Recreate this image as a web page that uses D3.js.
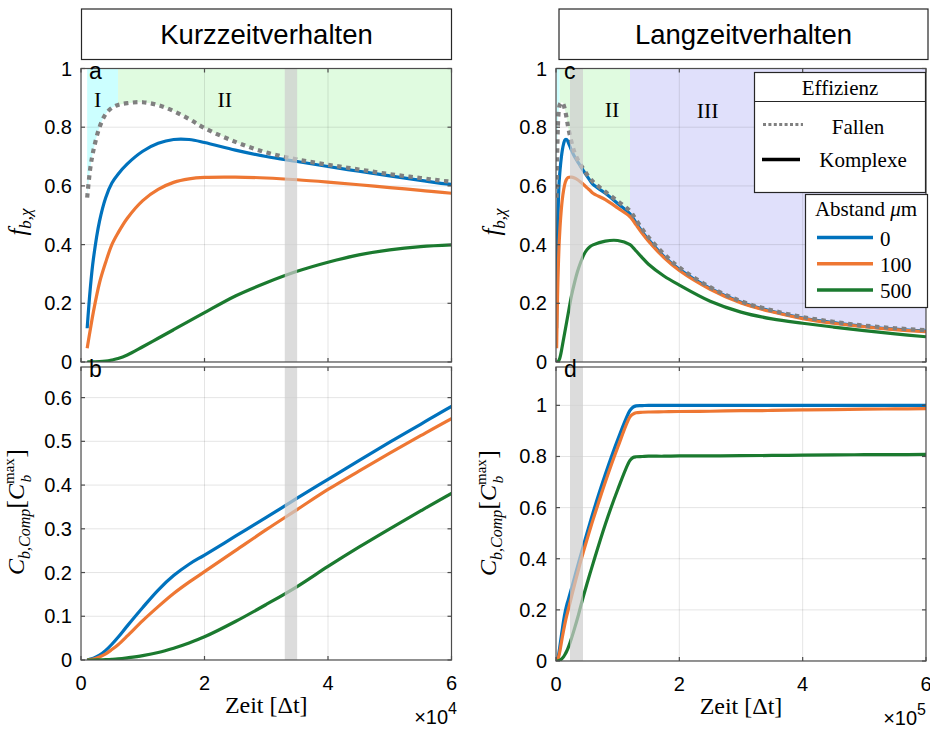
<!DOCTYPE html>
<html>
<head>
<meta charset="utf-8">
<script src="https://cdn.jsdelivr.net/npm/d3@7"></script>
<style>
  html, body { margin: 0; padding: 0; background: #fff; }
  svg { display: block; }
  text { fill: #000; }
</style>
</head>
<body>
<svg id="chart" width="930" height="729"></svg>
<script>
// ---- Simulation output -------------------------------------------------
// time points [Δt]
const zeit = [1000, 1500, 2000, 3000, 4000, 5000, 6000, 7500, 10000, 12500, 15000, 17500,
  20000, 25000, 30000, 35000, 40000, 45000, 50000, 55000, 60000, 80000, 100000, 120000,
  125000, 130000, 140000, 150000, 175000, 200000, 250000, 300000, 350000, 400000,
  450000, 500000, 550000, 600000];

// efficiency of the traps (dotted)
const effFallen = [0.56, 0.66, 0.72, 0.80, 0.845, 0.866, 0.876, 0.882, 0.885, 0.875, 0.855, 0.828,
  0.797, 0.750, 0.714, 0.690, 0.672, 0.656, 0.640, 0.627, 0.614, 0.580, 0.548, 0.515,
  0.500, 0.484, 0.452, 0.425, 0.368, 0.322, 0.255, 0.207, 0.176, 0.153,
  0.137, 0.124, 0.115, 0.108];

// efficiency of the complexes, per distance
const eff0 = [0.115, 0.25, 0.35, 0.48, 0.56, 0.61, 0.64, 0.675, 0.718, 0.745, 0.758, 0.758,
  0.748, 0.722, 0.70, 0.683, 0.666, 0.65, 0.634, 0.619, 0.605, 0.575, 0.54, 0.505,
  0.49, 0.474, 0.443, 0.417, 0.36, 0.316, 0.251, 0.204, 0.173, 0.15,
  0.134, 0.121, 0.112, 0.105];
const eff100 = [0.047, 0.11, 0.17, 0.27, 0.34, 0.40, 0.44, 0.49, 0.55, 0.588, 0.612, 0.624,
  0.629, 0.63, 0.627, 0.621, 0.613, 0.604, 0.594, 0.585, 0.575, 0.553, 0.525, 0.495,
  0.482, 0.467, 0.438, 0.412, 0.356, 0.312, 0.248, 0.201, 0.171, 0.148,
  0.132, 0.12, 0.11, 0.103];
const eff500 = [0.0, 0.0002, 0.0005, 0.001, 0.003, 0.007, 0.012, 0.024, 0.052, 0.081, 0.11, 0.139,
  0.168, 0.225, 0.27, 0.309, 0.34, 0.365, 0.382, 0.393, 0.399, 0.412, 0.414, 0.40,
  0.39, 0.378, 0.355, 0.333, 0.293, 0.262, 0.207, 0.17, 0.147, 0.132,
  0.119, 0.107, 0.096, 0.086];

// bound complexes C_b,Comp normalised to C_b^max, per distance
const komp0 = [0, 0.002, 0.004, 0.011, 0.022, 0.036, 0.052, 0.078, 0.12, 0.16, 0.193, 0.219,
  0.24, 0.283, 0.326, 0.37, 0.413, 0.456, 0.498, 0.539, 0.58, 0.73, 0.865, 0.98,
  0.993, 0.998, 0.999, 1.0, 1.0, 1.0, 1.0, 1.0, 1.0, 1.0,
  1.0, 1.0, 1.0, 1.0];
const komp100 = [0, 0.001, 0.002, 0.007, 0.014, 0.024, 0.035, 0.055, 0.09, 0.122, 0.152, 0.178,
  0.202, 0.25, 0.298, 0.344, 0.39, 0.432, 0.473, 0.513, 0.552, 0.70, 0.835, 0.955,
  0.966, 0.971, 0.973, 0.974, 0.975, 0.976, 0.977, 0.979, 0.98, 0.982,
  0.983, 0.985, 0.986, 0.987];
const komp500 = [0, 0, 0, 0.0003, 0.0008, 0.0015, 0.0025, 0.005, 0.01, 0.017, 0.027, 0.039,
  0.053, 0.088, 0.127, 0.168, 0.214, 0.258, 0.30, 0.341, 0.381, 0.535, 0.67, 0.785,
  0.796, 0.799, 0.80, 0.801, 0.801, 0.802, 0.802, 0.803, 0.804, 0.805,
  0.806, 0.807, 0.807, 0.808];

const abstand = ["0", "100", "500"];
const effSerien = [eff0, eff100, eff500];
const kompSerien = [komp0, komp100, komp500];

// phases of the process [Δt]
const phasenKurz = [{name: "I", von: 0, bis: 6000}, {name: "II", von: 6000, bis: 60000}];
const phasenLang = [{name: "I", von: 0, bis: 6000}, {name: "II", von: 6000, bis: 120000},
                    {name: "III", von: 120000, bis: 600000}];
// highlighted time window [Δt]
const fensterKurz = [33000, 35000];
const fensterLang = [22700, 43800];

// axis ticks
const tickEff = [0, 0.2, 0.4, 0.6, 0.8, 1];
const tickKompKurz = [0, 0.1, 0.2, 0.3, 0.4, 0.5, 0.6];
const tickKompLang = [0, 0.2, 0.4, 0.6, 0.8, 1];
const tickZeitKurz = [0, 20000, 40000, 60000];
const tickZeitLang = [0, 200000, 400000, 600000];

// ---- Styles --------------------------------------------------------------
const farben = ["#0072BD", "#EE7733", "#1B7A2F"];
const phasenFarbe = {I: "#ccffff", II: "#e0fbe0", III: "#e0e0fb"};
const sans = "'Liberation Sans', Arial, Helvetica, sans-serif";
const serif = "'Liberation Serif', 'Times New Roman', serif";
const achsFarbe = "#4d4d4d";
const kurve = d3.curveCatmullRom.alpha(0.5);

const svg = d3.select("#chart");
let clipId = 0;

function panel(cfg) {
  const x = d3.scaleLinear().domain([0, cfg.xmax]).range([cfg.left, cfg.right]);
  const y = d3.scaleLinear().domain([0, cfg.ymax]).range([cfg.bottom, cfg.top]);
  const g = svg.append("g");

  const cid = "clip" + (clipId++);
  svg.append("clipPath").attr("id", cid).append("rect")
    .attr("x", cfg.left).attr("y", cfg.top)
    .attr("width", cfg.right - cfg.left).attr("height", cfg.bottom - cfg.top);

  const pts = zeit.map((t, i) => i);
  const inner = g.append("g").attr("clip-path", `url(#${cid})`);

  // phase shading above the trap efficiency curve
  if (cfg.phasen) {
    cfg.phasen.forEach(p => {
      const pid = "clip" + (clipId++);
      svg.append("clipPath").attr("id", pid).append("rect")
        .attr("x", x(p.von)).attr("y", cfg.top)
        .attr("width", x(Math.min(p.bis, cfg.xmax)) - x(p.von)).attr("height", cfg.bottom - cfg.top);
      const area = d3.area()
        .x(i => x(zeit[i])).y0(y(1)).y1(i => y(effFallen[i]))
        .curve(kurve);
      inner.append("g").attr("clip-path", `url(#${pid})`)
        .append("path").attr("d", area(pts)).attr("fill", phasenFarbe[p.name]);
    });
  }

  // grid
  cfg.xticks.forEach(t => {
    inner.append("line").attr("x1", x(t)).attr("x2", x(t))
      .attr("y1", cfg.top).attr("y2", cfg.bottom)
      .attr("stroke", "#262626").attr("stroke-opacity", 0.12).attr("stroke-width", 1);
  });
  cfg.yticks.forEach(v => {
    inner.append("line").attr("x1", cfg.left).attr("x2", cfg.right)
      .attr("y1", y(v)).attr("y2", y(v))
      .attr("stroke", "#262626").attr("stroke-opacity", 0.12).attr("stroke-width", 1);
  });

  // curves
  const line = arr => d3.line().x(i => x(zeit[i])).y(i => y(arr[i]))
    .curve(kurve)(pts.filter(i => zeit[i] <= cfg.xmax * 1.4));
  cfg.serien.forEach((s, k) => {
    inner.append("path").attr("d", line(s)).attr("fill", "none")
      .attr("stroke", farben[k]).attr("stroke-width", 3.2).attr("stroke-linejoin", "round");
  });
  if (cfg.fallen) {
    inner.append("path").attr("d", line(effFallen)).attr("fill", "none")
      .attr("stroke", "#808080").attr("stroke-width", 4.2)
      .attr("stroke-dasharray", "4.5 4.5");
  }

  // highlighted window
  inner.append("rect")
    .attr("x", x(cfg.fenster[0])).attr("width", x(cfg.fenster[1]) - x(cfg.fenster[0]))
    .attr("y", cfg.top).attr("height", cfg.bottom - cfg.top)
    .attr("fill", "#cdcdcd").attr("fill-opacity", 0.7);

  // box & ticks
  g.append("rect").attr("x", cfg.left).attr("y", cfg.top)
    .attr("width", cfg.right - cfg.left).attr("height", cfg.bottom - cfg.top)
    .attr("fill", "none").attr("stroke", achsFarbe).attr("stroke-width", 1.2);
  const tl = 4;
  cfg.xticks.forEach(t => {
    g.append("line").attr("x1", x(t)).attr("x2", x(t)).attr("y1", cfg.bottom).attr("y2", cfg.bottom - tl)
      .attr("stroke", achsFarbe).attr("stroke-width", 1.2);
    g.append("line").attr("x1", x(t)).attr("x2", x(t)).attr("y1", cfg.top).attr("y2", cfg.top + tl)
      .attr("stroke", achsFarbe).attr("stroke-width", 1.2);
  });
  cfg.yticks.forEach(v => {
    g.append("line").attr("x1", cfg.left).attr("x2", cfg.left + tl).attr("y1", y(v)).attr("y2", y(v))
      .attr("stroke", achsFarbe).attr("stroke-width", 1.2);
    g.append("line").attr("x1", cfg.right).attr("x2", cfg.right - tl).attr("y1", y(v)).attr("y2", y(v))
      .attr("stroke", achsFarbe).attr("stroke-width", 1.2);
  });

  // y tick labels
  cfg.yticks.forEach(v => {
    g.append("text").attr("x", cfg.left - 9).attr("y", y(v) + 7)
      .attr("text-anchor", "end").attr("font-family", sans).attr("font-size", 20)
      .attr("fill", "#262626").text(d3.format("~g")(v));
  });

  // x tick labels + exponent
  if (cfg.xlabels) {
    const exp = Math.round(Math.log10(cfg.xmax / 6));
    cfg.xticks.forEach(t => {
      g.append("text").attr("x", x(t)).attr("y", cfg.bottom + 30)
        .attr("text-anchor", "middle").attr("font-family", sans).attr("font-size", 20)
        .attr("fill", "#262626").text(d3.format("~g")(t / Math.pow(10, exp)));
    });
    g.append("text").attr("x", (cfg.left + cfg.right) / 2).attr("y", cfg.bottom + 53)
      .attr("text-anchor", "middle").attr("font-family", serif).attr("font-size", 24)
      .attr("fill", "#262626").text("Zeit [Δt]");
    const ex = g.append("text").attr("x", cfg.expX).attr("y", cfg.bottom + 64)
      .attr("text-anchor", "end").attr("font-family", sans).attr("font-size", 20)
      .attr("fill", "#262626");
    ex.append("tspan").text("×10");
    ex.append("tspan").attr("dy", -10).attr("font-size", 16).text(String(exp));
  }

  // panel letter
  g.append("text").attr("x", cfg.left + 8).attr("y", cfg.top + 10)
    .attr("font-family", sans).attr("font-size", 23).text(cfg.buchstabe);

  return {x, y, g};
}

// y-axis titles
function yTitelEff(cx, cy) {
  const t = svg.append("text").attr("transform", `translate(${cx},${cy}) rotate(-90)`)
    .attr("text-anchor", "middle").attr("font-family", serif).attr("font-size", 25)
    .attr("fill", "#262626").attr("font-style", "italic");
  t.append("tspan").text("f");
  t.append("tspan").attr("dy", 5).attr("font-size", 17).text("b,χ");
}
function yTitelKomp(cx, cy) {
  const t = svg.append("text").attr("transform", `translate(${cx},${cy}) rotate(-90)`)
    .attr("text-anchor", "middle").attr("font-family", serif).attr("font-size", 24)
    .attr("fill", "#262626");
  t.append("tspan").attr("font-style", "italic").text("C");
  t.append("tspan").attr("dy", 6).attr("font-size", 16).attr("font-style", "italic").text("b,Comp");
  t.append("tspan").attr("dy", -6).attr("font-size", 26).text("[");
  t.append("tspan").attr("font-style", "italic").text("C");
  t.append("tspan").attr("dy", -10).attr("font-size", 15).text("max");
  t.append("tspan").attr("dx", -24).attr("dy", 17).attr("font-size", 15).attr("font-style", "italic").text("b");
  t.append("tspan").attr("dx", 17).attr("dy", -7).attr("font-size", 26).text("]");
}

// ---- Short-term panels ----------------------------------------------------
const pa = panel({left: 81, right: 451.5, top: 68.5, bottom: 362, xmax: 60000, ymax: 1,
  xticks: tickZeitKurz, yticks: tickEff, serien: effSerien, fallen: true,
  phasen: phasenKurz, fenster: fensterKurz, buchstabe: "a"});
const pb = panel({left: 81, right: 451.5, top: 367, bottom: 660, xmax: 60000, ymax: 0.67,
  xticks: tickZeitKurz, yticks: tickKompKurz, serien: kompSerien,
  fenster: fensterKurz, buchstabe: "b", xlabels: true, expX: 457});

// ---- Long-term panels -----------------------------------------------------
const pc = panel({left: 556, right: 926, top: 68.5, bottom: 362, xmax: 600000, ymax: 1,
  xticks: tickZeitLang, yticks: tickEff, serien: effSerien, fallen: true,
  phasen: phasenLang, fenster: fensterLang, buchstabe: "c"});
const pd = panel({left: 556, right: 926, top: 367, bottom: 661, xmax: 600000, ymax: 1.15,
  xticks: tickZeitLang, yticks: tickKompLang, serien: kompSerien,
  fenster: fensterLang, buchstabe: "d", xlabels: true, expX: 926});

yTitelEff(26, 222);
yTitelEff(500, 222);
yTitelKomp(24, 512);
yTitelKomp(496, 513);

// phase labels
function phasenLabel(p, name, t, yPix) {
  p.g.append("text").attr("x", p.x(t)).attr("y", yPix).attr("text-anchor", "middle")
    .attr("font-family", serif).attr("font-size", 22).text(name);
}
phasenLabel(pa, "I", 2700, 107);
phasenLabel(pa, "II", 23300, 107);
phasenLabel(pc, "II", 91000, 117);
phasenLabel(pc, "III", 246000, 118);

// ---- Titles ----------------------------------------------------------------
[[81.5, 451.5, "Kurzzeitverhalten"], [559, 928, "Langzeitverhalten"]].forEach(([a, b, s]) => {
  svg.append("rect").attr("x", a).attr("y", 9).attr("width", b - a).attr("height", 50.5)
    .attr("fill", "#fff").attr("stroke", "#262626").attr("stroke-width", 1.2);
  svg.append("text").attr("x", (a + b) / 2).attr("y", 44).attr("text-anchor", "middle")
    .attr("font-family", sans).attr("font-size", 27.5).text(s);
});

// ---- Legends ---------------------------------------------------------------
const lg = svg.append("g");
lg.append("rect").attr("x", 754.5).attr("y", 72.5).attr("width", 171).attr("height", 120)
  .attr("fill", "#fff").attr("stroke", "#262626").attr("stroke-width", 1.2);
lg.append("line").attr("x1", 754.5).attr("x2", 925.5).attr("y1", 101.5).attr("y2", 101.5)
  .attr("stroke", "#262626").attr("stroke-width", 1.2);
lg.append("text").attr("x", 840).attr("y", 95).attr("text-anchor", "middle")
  .attr("font-family", serif).attr("font-size", 21).text("Effizienz");
lg.append("line").attr("x1", 763).attr("x2", 803).attr("y1", 124.5).attr("y2", 124.5)
  .attr("stroke", "#808080").attr("stroke-width", 3).attr("stroke-dasharray", "3 2.4");
lg.append("text").attr("x", 858).attr("y", 134).attr("text-anchor", "middle")
  .attr("font-family", serif).attr("font-size", 21).text("Fallen");
lg.append("line").attr("x1", 762).attr("x2", 800).attr("y1", 159.5).attr("y2", 159.5)
  .attr("stroke", "#000").attr("stroke-width", 3.5);
lg.append("text").attr("x", 863).attr("y", 167).attr("text-anchor", "middle")
  .attr("font-family", serif).attr("font-size", 21).text("Komplexe");

lg.append("rect").attr("x", 805.5).attr("y", 194.5).attr("width", 122).attr("height", 113)
  .attr("fill", "#fff").attr("stroke", "#262626").attr("stroke-width", 1.2);
const abT = lg.append("text").attr("x", 866).attr("y", 216).attr("text-anchor", "middle")
  .attr("font-family", serif).attr("font-size", 21);
abT.append("tspan").text("Abstand ");
abT.append("tspan").attr("font-style", "italic").text("μ");
abT.append("tspan").text("m");
abstand.forEach((a, k) => {
  const yy = 237.5 + k * 26.2;
  lg.append("line").attr("x1", 817).attr("x2", 873).attr("y1", yy).attr("y2", yy)
    .attr("stroke", farben[k]).attr("stroke-width", 3.5);
  lg.append("text").attr("x", 880).attr("y", yy + 8).attr("font-family", serif)
    .attr("font-size", 21).text(a);
});
</script>
</body>
</html>
